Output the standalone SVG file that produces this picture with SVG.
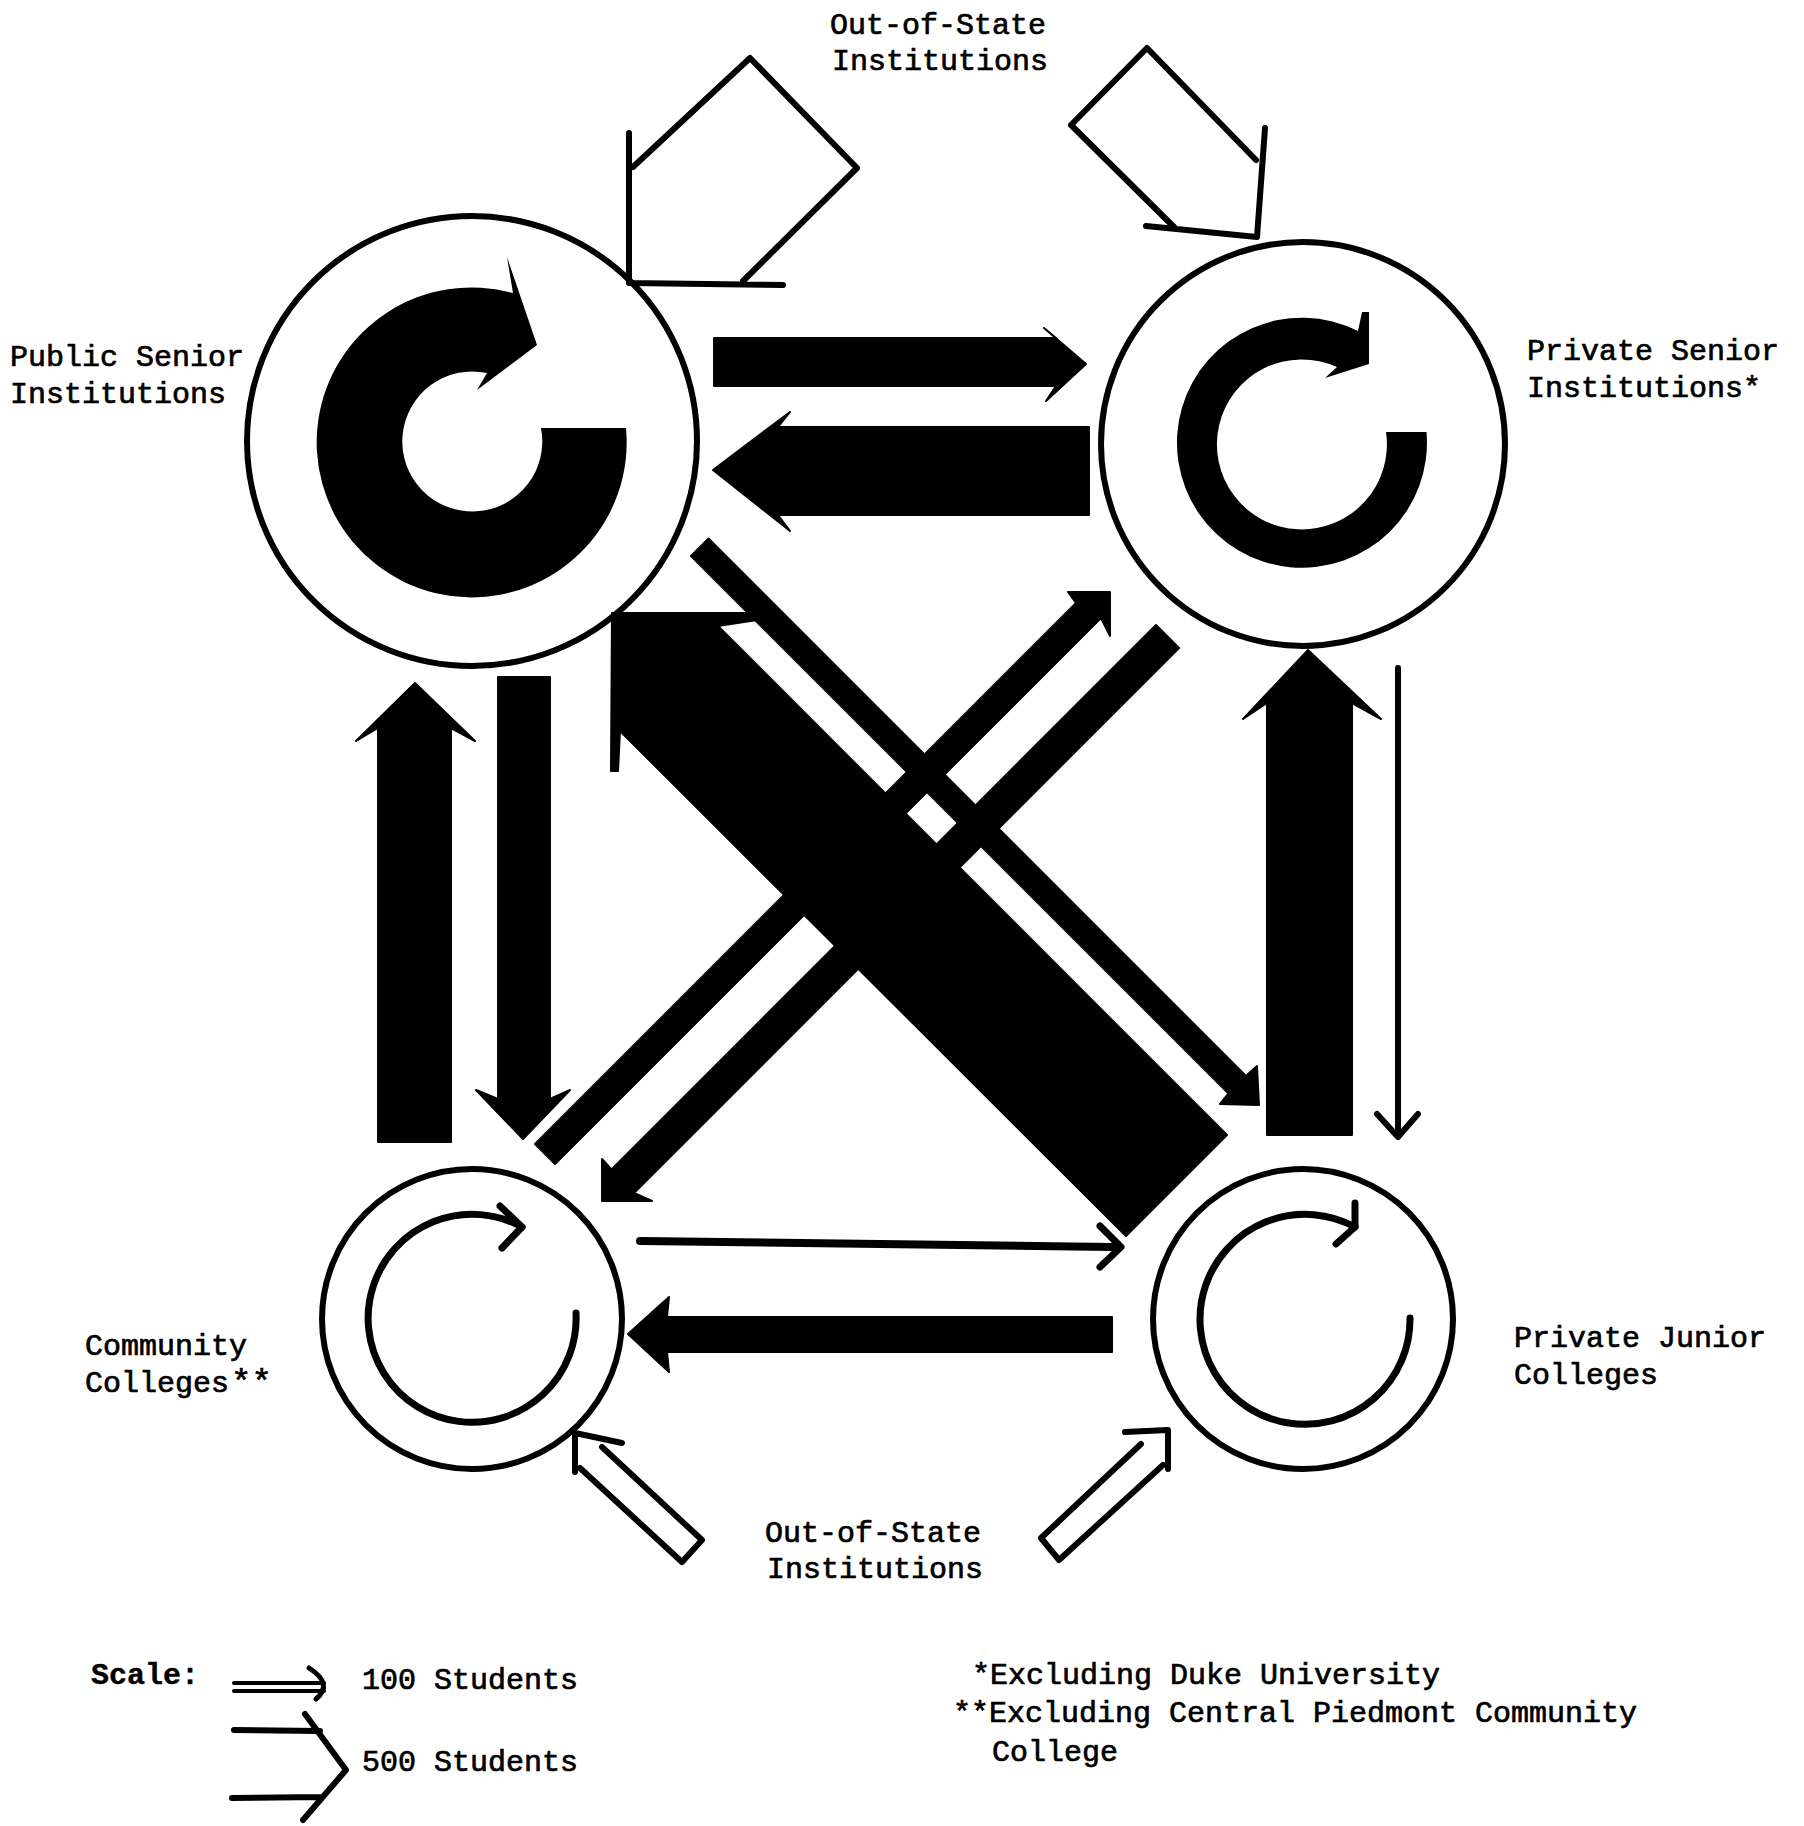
<svg xmlns="http://www.w3.org/2000/svg" width="1804" height="1826" viewBox="0 0 1804 1826">
<style>
.t{font-family:"Liberation Mono","DejaVu Sans Mono",monospace;font-size:30px;fill:#000;stroke:#000;stroke-width:0.7}
.b{font-weight:bold;stroke-width:0.4}
.ring{fill:none;stroke:#000;stroke-width:6}
.thin{fill:none;stroke:#000;stroke-width:7;stroke-linecap:round;stroke-linejoin:round}
.open{fill:none;stroke:#000;stroke-width:6;stroke-linecap:round;stroke-linejoin:round}
.solid{fill:#000;stroke:#000;stroke-width:2;stroke-linejoin:round}
.line{fill:none;stroke:#000;stroke-linecap:round;stroke-linejoin:round}
</style>
<rect width="1804" height="1826" fill="#fff"/>

<g id="connectors">
  <!-- Out-of-state (top) open arrows -->
  <path class="open" d="M629,133 L629,283 L783,285 M633,167 L750,58 L857,168 L743,281"/>
  <path class="open" d="M1265,128 L1257,237 L1146,226 M1256,160 L1147,48 L1071,125 L1174,227"/>
  <!-- Out-of-state (bottom) open arrows -->
  <path class="open" d="M575,1472 L575,1433 L622,1443 M602,1447 L702,1540 L682,1562 L580,1468"/>
  <path class="open" d="M1168,1469 L1168,1430 L1125,1432 M1141,1444 L1041,1538 L1059,1560 L1163,1465"/>
  <!-- Public Senior -> Private Senior -->
  <polygon class="solid" points="714,338 1056,338 1044,328 1086,364 1046,401 1056,386 714,386"/>
  <!-- Private Senior -> Public Senior -->
  <polygon class="solid" points="713,470 790,412 778,427 1089,427 1089,515 778,515 790,531"/>
  <!-- Community -> Public Senior -->
  <polygon class="solid" points="415,683 475,741 451,728 451,1142 378,1142 378,728 356,741"/>
  <!-- Public Senior -> Community -->
  <polygon class="solid" points="498,677 550,677 550,1099 570,1090 523,1139 476,1090 498,1099"/>
  <!-- Private Junior -> Private Senior -->
  <polygon class="solid" points="1308,650 1381,719 1352,703 1352,1135 1267,1135 1267,703 1243,719"/>
  <!-- Private Senior -> Private Junior (thin) -->
  <path class="line" stroke-width="6" d="M1398,668 L1398,1135 M1377,1114 L1398,1137 L1418,1114"/>
  <!-- Community -> Private Junior -->
  <path class="line" stroke-width="8" d="M640,1241 L1112,1247"/>
  <path class="line" stroke-width="7" d="M1100,1226 L1121,1247 L1100,1267"/>
  <!-- Private Junior -> Community -->
  <polygon class="solid" points="628,1334 669,1297 667,1317 1112,1317 1112,1352 667,1352 669,1372"/>
  <!-- Diagonals -->
  <polygon class="solid" points="708.5,538.5 1246,1076 1257,1066 1259,1105 1220,1104 1228.5,1093.5 691,556"/>
  <polygon class="solid" points="612,613 757,613 757,620 718,626 1227,1135 1126,1236 620,731 618,771 611,771"/>
  <polygon class="solid" points="535,1144 1076,603 1068,592 1110,592 1110,636 1101,618 555,1164"/>
  <polygon class="solid" points="1156,625 611.5,1169.5 602,1159 602,1201 652,1201 634,1193 1179,648"/>
</g>

<g id="node-public-senior">
  <circle class="ring" cx="472" cy="441" r="225"/>
  <path fill="#000" d="M626,428 A155,155 0 1 1 513,293 L507,257 L537,345 L477,390 L487,373 A70,70 0 1 0 541,428 Z"/>
  <text class="t" x="10" y="366">Public Senior</text>
  <text class="t" x="10" y="403">Institutions</text>
</g>

<g id="node-private-senior">
  <circle class="ring" cx="1303" cy="444" r="202" stroke-width="5"/>
  <path fill="#000" d="M1426.5,432 A125,125 0 1 1 1358,331 L1362,312 L1369,312 L1369,364 L1325,378 L1337,367 A85,85 0 1 0 1386,432 Z"/>
  <text class="t" x="1527" y="360">Private Senior</text>
  <text class="t" x="1527" y="397">Institutions*</text>
</g>

<g id="node-community">
  <circle class="ring" cx="472" cy="1319" r="150" stroke-width="7"/>
  <path class="thin" d="M576,1313 A104,104 0 1 1 522,1227"/>
  <path class="thin" d="M500,1206 L522,1227 L502,1248"/>
  <text class="t" x="85" y="1355">Community</text>
  <text class="t" x="85" y="1392">Colleges<tspan font-size="34" dx="2">**</tspan></text>
</g>

<g id="node-private-junior">
  <circle class="ring" cx="1303" cy="1319" r="150" stroke-width="7"/>
  <path class="thin" d="M1410,1318 A105,105 0 1 1 1355,1227"/>
  <path class="thin" d="M1355,1203 L1355,1227 L1336,1244"/>
  <text class="t" x="1514" y="1347">Private Junior</text>
  <text class="t" x="1514" y="1384">Colleges</text>
</g>

<g id="node-out-of-state-top">
  <text class="t" x="830" y="34">Out-of-State</text>
  <text class="t" x="832" y="70">Institutions</text>
</g>

<g id="node-out-of-state-bottom">
  <text class="t" x="765" y="1542">Out-of-State</text>
  <text class="t" x="767" y="1578">Institutions</text>
</g>

<g id="legend">
  <text class="t b" x="91" y="1684">Scale:</text>
  <path class="line" stroke-width="4" d="M234,1683 L324,1683 M234,1691 L324,1691"/>
  <path class="line" stroke-width="5" d="M309,1668 Q334,1684 316,1699"/>
  <text class="t" x="362" y="1689">100 Students</text>
  <path class="line" stroke-width="6" d="M234,1730 L320,1731 M232,1798 L322,1797 M305,1714 L346,1770 L303,1820"/>
  <text class="t" x="362" y="1771">500 Students</text>
</g>

<g id="footnotes">
  <text class="t" x="972" y="1684">*Excluding Duke University</text>
  <text class="t" x="953" y="1722">**Excluding Central Piedmont Community</text>
  <text class="t" x="992" y="1761">College</text>
</g>
</svg>
